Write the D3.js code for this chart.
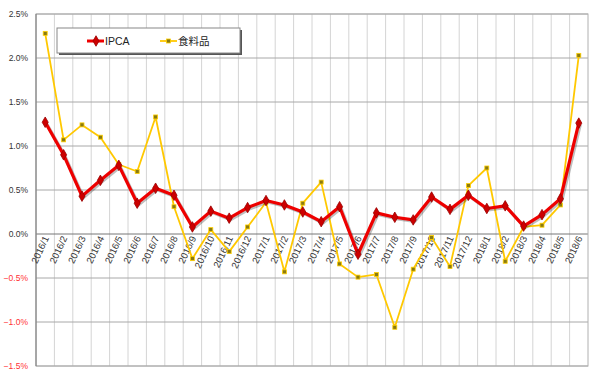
<!DOCTYPE html>
<html><head><meta charset="utf-8">
<script src="https://cdn.jsdelivr.net/npm/d3@7"></script>
<style>body{margin:0;background:#fff}svg{display:block}</style>
</head><body><svg id="c" width="600" height="379"></svg>
<script>
const categories = ["2016/1","2016/2","2016/3","2016/4","2016/5","2016/6","2016/7","2016/8","2016/9","2016/10","2016/11","2016/12",
"2017/1","2017/2","2017/3","2017/4","2017/5","2017/6","2017/7","2017/8","2017/9","2017/10","2017/11","2017/12",
"2018/1","2018/2","2018/3","2018/4","2018/5","2018/6"];
const ipca = [1.27,0.90,0.43,0.61,0.78,0.35,0.52,0.44,0.08,0.26,0.18,0.30,
0.38,0.33,0.25,0.14,0.31,-0.23,0.24,0.19,0.16,0.42,0.28,0.44,
0.29,0.32,0.09,0.22,0.40,1.26];
const food = [2.28,1.07,1.24,1.10,0.79,0.71,1.33,0.31,-0.28,0.05,-0.20,0.08,
0.36,-0.43,0.35,0.59,-0.34,-0.49,-0.46,-1.06,-0.40,-0.04,-0.37,0.55,
0.75,-0.31,0.08,0.10,0.33,2.03];
const yTicks = [-1.5,-1.0,-0.5,0,0.5,1.0,1.5,2.0,2.5];
const seriesNames = ["IPCA","食料品"];

const svg = d3.select("#c");
const L=36,R=588,T=14,B=366;
const x = d3.scaleBand().domain(categories).range([L,R]).padding(0);
const y = d3.scaleLinear().domain([-1.5,2.5]).range([B,T]);
const cx = d => x(d)+x.bandwidth()/2;

// vertical grid
svg.append("g").selectAll("line").data(categories.slice(1)).join("line")
 .attr("x1",d=>x(d)).attr("x2",d=>x(d)).attr("y1",T).attr("y2",B)
 .attr("stroke","#d4d4d4").attr("stroke-width",1);
// horizontal grid
svg.append("g").selectAll("line").data(yTicks).join("line")
 .attr("x1",L).attr("x2",R).attr("y1",d=>y(d)).attr("y2",d=>y(d))
 .attr("stroke",d=>d===0?"#777":"#a8a8a8").attr("stroke-width",1);
// frame
svg.append("rect").attr("x",L).attr("y",T).attr("width",R-L).attr("height",B-T)
 .attr("fill","none").attr("stroke","#b0b0b0");
svg.append("line").attr("x1",L).attr("x2",L).attr("y1",T).attr("y2",B).attr("stroke","#777");

// y axis labels
const yAxis = d3.axisLeft(y).tickValues(yTicks).tickFormat(d=>d3.format(".1f")(d)+"%").tickSize(0).tickPadding(8);
const ga = svg.append("g").attr("transform",`translate(${L},0)`).call(yAxis);
ga.select(".domain").remove();
ga.selectAll("text").attr("font-family","Arial, 'Liberation Sans', sans-serif").attr("font-size",8.5)
 .attr("fill",d=>d<0?"#ff3333":"#333");

// x labels
const gx = svg.append("g").attr("transform",`translate(0,${y(0)})`)
 .call(d3.axisBottom(x).tickSize(0).tickPadding(0));
gx.select(".domain").remove();
gx.selectAll("text").attr("font-family","Arial, 'Liberation Sans', sans-serif").attr("font-size",9.5)
 .attr("fill","#333").attr("text-anchor","end").attr("dy",0)
 .attr("transform",function(){return "translate(4,4) rotate(-65)";});

// food line
const lineF = d3.line().x((d,i)=>cx(categories[i])).y(d=>y(d));
svg.append("path").datum(food).attr("d",lineF).attr("fill","none")
 .attr("stroke","#ffc800").attr("stroke-width",1.8).attr("stroke-linejoin","round");
svg.append("g").selectAll("rect").data(food).join("rect")
 .attr("x",(d,i)=>cx(categories[i])-2).attr("y",d=>y(d)-2).attr("width",4).attr("height",4)
 .attr("fill","#8a7a10").attr("stroke","#ffd000").attr("stroke-width",0.8);

// ipca shadow + line
svg.append("path").datum(ipca).attr("d",lineF).attr("fill","none")
 .attr("transform","translate(1.5,1.5)")
 .attr("stroke","#000").attr("stroke-opacity",0.25).attr("stroke-width",3.2).attr("stroke-linejoin","round");
svg.append("path").datum(ipca).attr("d",lineF).attr("fill","none")
 .attr("stroke","#ee0000").attr("stroke-width",3.2).attr("stroke-linejoin","round");
const diamond = d3.symbol().type(d3.symbolDiamond).size(32);
svg.append("g").selectAll("path").data(ipca).join("path")
 .attr("d",diamond).attr("transform",(d,i)=>`translate(${cx(categories[i])},${y(d)})`)
 .attr("fill","#cc0000").attr("stroke","#990000").attr("stroke-width",0.8);

// legend
const lg = svg.append("g");
lg.append("rect").attr("x",59).attr("y",30).attr("width",183).attr("height",25).attr("fill","#555");
lg.append("rect").attr("x",57).attr("y",28).attr("width",183).attr("height",25).attr("fill","#fff").attr("stroke","#888");
lg.append("line").attr("x1",87).attr("x2",104).attr("y1",41).attr("y2",41).attr("stroke","#ee0000").attr("stroke-width",3);
lg.append("path").attr("d",diamond).attr("transform","translate(96,41)").attr("fill","#cc0000").attr("stroke","#990000").attr("stroke-width",0.8);
lg.append("text").attr("x",105).attr("y",45).text(seriesNames[0]).attr("font-family","Arial, 'Liberation Sans', sans-serif").attr("font-size",10.5).attr("fill","#222");
lg.append("line").attr("x1",160).attr("x2",177).attr("y1",41).attr("y2",41).attr("stroke","#ffc800").attr("stroke-width",1.8);
lg.append("rect").attr("x",166.5).attr("y",39).attr("width",4).attr("height",4).attr("fill","#8a7a10").attr("stroke","#ffd000").attr("stroke-width",0.8);
lg.append("text").attr("x",178).attr("y",45).text(seriesNames[1]).attr("font-family","'Noto Sans CJK JP', sans-serif").attr("font-size",10.5).attr("fill","#222");
</script></body></html>
